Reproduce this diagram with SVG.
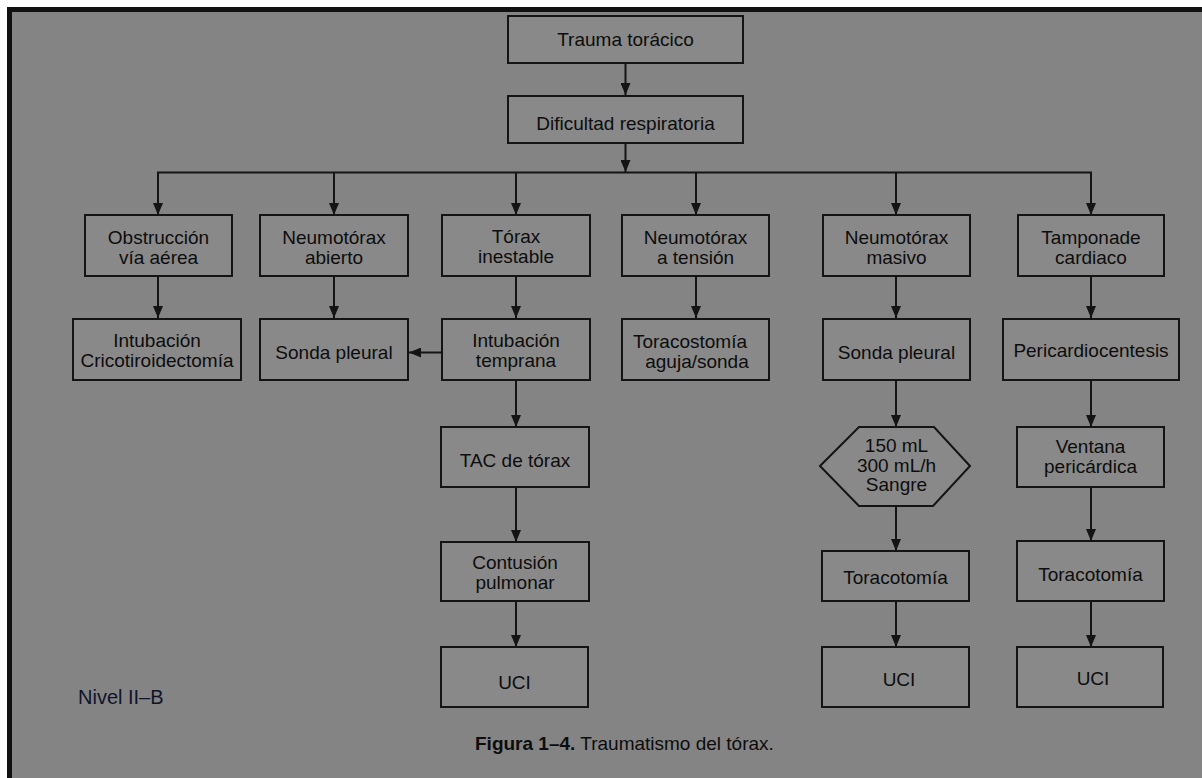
<svg xmlns="http://www.w3.org/2000/svg" width="1202" height="778" viewBox="0 0 1202 778">
<style>
.bx{fill:#898989;stroke:#141414;stroke-width:2}
.t{font-family:"Liberation Sans",Arial,sans-serif;font-size:19px;fill:#0d0d0d;text-anchor:middle}
.c{stroke:#141414;stroke-width:2;fill:none}
</style>
<defs>
<marker id="ah" markerUnits="userSpaceOnUse" markerWidth="12" markerHeight="10" refX="12" refY="5" orient="auto">
<path d="M0,0 L12,5 L0,10 z" fill="#141414"/>
</marker>
</defs>
<rect x="0" y="0" width="1202" height="778" fill="#ffffff"/>
<rect x="7" y="7" width="1195" height="771" fill="#111"/>
<rect x="12" y="12" width="1190" height="766" fill="#848484"/>

<g id="connectors">
<line class="c" x1="625.5" y1="63" x2="625.5" y2="95" marker-end="url(#ah)"/>
<line class="c" x1="625.5" y1="143" x2="625.5" y2="172" marker-end="url(#ah)"/>
<line class="c" x1="157" y1="172.5" x2="1092" y2="172.5"/>
<line class="c" x1="158" y1="172.5" x2="158" y2="215" marker-end="url(#ah)"/>
<line class="c" x1="334" y1="172.5" x2="334" y2="215" marker-end="url(#ah)"/>
<line class="c" x1="516" y1="172.5" x2="516" y2="215" marker-end="url(#ah)"/>
<line class="c" x1="696" y1="172.5" x2="696" y2="215" marker-end="url(#ah)"/>
<line class="c" x1="896" y1="172.5" x2="896" y2="215" marker-end="url(#ah)"/>
<line class="c" x1="1091" y1="172.5" x2="1091" y2="215" marker-end="url(#ah)"/>
<line class="c" x1="158" y1="276" x2="158" y2="318" marker-end="url(#ah)"/>
<line class="c" x1="334" y1="276" x2="334" y2="318" marker-end="url(#ah)"/>
<line class="c" x1="516" y1="276" x2="516" y2="318" marker-end="url(#ah)"/>
<line class="c" x1="696" y1="276" x2="696" y2="318" marker-end="url(#ah)"/>
<line class="c" x1="896" y1="276" x2="896" y2="318" marker-end="url(#ah)"/>
<line class="c" x1="1091" y1="276" x2="1091" y2="318" marker-end="url(#ah)"/>
<line class="c" x1="442" y1="352.5" x2="409" y2="352.5" marker-end="url(#ah)"/>
<line class="c" x1="516" y1="380" x2="516" y2="427" marker-end="url(#ah)"/>
<line class="c" x1="516" y1="487" x2="516" y2="542" marker-end="url(#ah)"/>
<line class="c" x1="516" y1="601" x2="516" y2="647" marker-end="url(#ah)"/>
<line class="c" x1="896" y1="380" x2="896" y2="427" marker-end="url(#ah)"/>
<line class="c" x1="896" y1="506" x2="896" y2="551" marker-end="url(#ah)"/>
<line class="c" x1="896" y1="601" x2="896" y2="647" marker-end="url(#ah)"/>
<line class="c" x1="1091" y1="380" x2="1091" y2="427" marker-end="url(#ah)"/>
<line class="c" x1="1091" y1="487" x2="1091" y2="541" marker-end="url(#ah)"/>
<line class="c" x1="1091" y1="601" x2="1091" y2="647" marker-end="url(#ah)"/>
</g>

<g id="trauma"><rect class="bx" x="508" y="16" width="235" height="47"/><text class="t" x="625.5" y="46">Trauma torácico</text></g>
<g id="dificultad"><rect class="bx" x="508" y="96" width="235" height="47"/><text class="t" x="625.5" y="130">Dificultad respiratoria</text></g>

<g id="obstruccion"><rect class="bx" x="85" y="215" width="147" height="61"/><text class="t" x="158.5" y="244">Obstrucción</text><text class="t" x="158.5" y="263.5">vía aérea</text></g>
<g id="neumo-abierto"><rect class="bx" x="260" y="215" width="148" height="61"/><text class="t" x="334" y="244">Neumotórax</text><text class="t" x="334" y="263.5">abierto</text></g>
<g id="torax-inestable"><rect class="bx" x="442" y="215" width="148" height="61"/><text class="t" x="516" y="243">Tórax</text><text class="t" x="516" y="262.5">inestable</text></g>
<g id="neumo-tension"><rect class="bx" x="622" y="215" width="147" height="61"/><text class="t" x="695.5" y="244">Neumotórax</text><text class="t" x="695.5" y="263.5">a tensión</text></g>
<g id="neumo-masivo"><rect class="bx" x="823" y="215" width="147" height="61"/><text class="t" x="896.5" y="244">Neumotórax</text><text class="t" x="896.5" y="263.5">masivo</text></g>
<g id="tamponade"><rect class="bx" x="1018" y="215" width="146" height="61"/><text class="t" x="1091" y="244">Tamponade</text><text class="t" x="1091" y="263.5">cardiaco</text></g>

<g id="intubacion-crico"><rect class="bx" x="73" y="319" width="168" height="61"/><text class="t" x="157" y="347">Intubación</text><text class="t" x="157" y="366.5">Cricotiroidectomía</text></g>
<g id="sonda-pleural-1"><rect class="bx" x="260" y="319" width="148" height="61"/><text class="t" x="334" y="359">Sonda pleural</text></g>
<g id="intubacion-temprana"><rect class="bx" x="442" y="319" width="148" height="61"/><text class="t" x="516" y="347">Intubación</text><text class="t" x="516" y="366.5">temprana</text></g>
<g id="toracostomia"><rect class="bx" x="622" y="319" width="147" height="61"/><text class="t" x="690" y="348">Toracostomía</text><text class="t" x="697" y="367.5">aguja/sonda</text></g>
<g id="sonda-pleural-2"><rect class="bx" x="823" y="319" width="147" height="61"/><text class="t" x="896.5" y="359">Sonda pleural</text></g>
<g id="pericardiocentesis"><rect class="bx" x="1003" y="319" width="176" height="61"/><text class="t" x="1091" y="357">Pericardiocentesis</text></g>

<g id="tac"><rect class="bx" x="441" y="427" width="148" height="60"/><text class="t" x="515" y="467">TAC de tórax</text></g>
<g id="hexagono"><polygon class="bx" points="820,466 859,427 934,427 970,466 933,506 859,506"/><text class="t" x="896.5" y="452">150 mL</text><text class="t" x="896.5" y="471.5">300 mL/h</text><text class="t" x="896.5" y="491">Sangre</text></g>
<g id="ventana"><rect class="bx" x="1017" y="427" width="147" height="60"/><text class="t" x="1090.5" y="453">Ventana</text><text class="t" x="1090.5" y="472.5">pericárdica</text></g>

<g id="contusion"><rect class="bx" x="441" y="542" width="148" height="59"/><text class="t" x="515" y="569">Contusión</text><text class="t" x="515" y="588.5">pulmonar</text></g>
<g id="toracotomia-1"><rect class="bx" x="822" y="551" width="147" height="50"/><text class="t" x="895.5" y="584">Toracotomía</text></g>
<g id="toracotomia-2"><rect class="bx" x="1017" y="541" width="147" height="60"/><text class="t" x="1090.5" y="581">Toracotomía</text></g>

<g id="uci-1"><rect class="bx" x="441" y="647" width="147" height="60"/><text class="t" x="514.5" y="689">UCI</text></g>
<g id="uci-2"><rect class="bx" x="822" y="647" width="147" height="60"/><text class="t" x="899" y="686">UCI</text></g>
<g id="uci-3"><rect class="bx" x="1017" y="647" width="146" height="60"/><text class="t" x="1093" y="685">UCI</text></g>

<text x="78" y="704" style="font-family:'Liberation Sans',Arial,sans-serif;font-size:20px;fill:#10142a">Nivel II–B</text>
<text x="475" y="750" style="font-family:'Liberation Sans',Arial,sans-serif;font-size:19px;fill:#0d0d0d"><tspan font-weight="bold">Figura 1–4.</tspan> Traumatismo del tórax.</text>
</svg>
